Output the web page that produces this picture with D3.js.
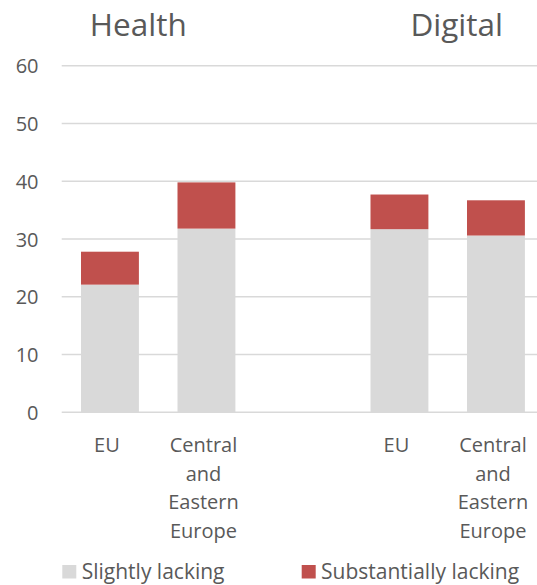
<!DOCTYPE html>
<html>
<head>
<meta charset="utf-8">
<script src="https://cdn.jsdelivr.net/npm/d3@7"></script>
<style>
  html, body { margin: 0; padding: 0; background: #fff; }
  svg { display: block; font-family: "Open Sans", "Noto Sans", sans-serif; }
</style>
</head>
<body>
<svg id="chart" width="537" height="585"></svg>
<script>
// Panel titles and the categories shown under each panel
const panels = ["Health", "Digital"];
const categories = ["EU", "Central and Eastern Europe"];
// Share of respondents (%) per bar, in order: Health EU, Health CEE, Digital EU, Digital CEE
const slightlyLacking = [22.1, 31.8, 31.7, 30.6];
const substantiallyLacking = [5.7, 8.0, 6.0, 6.1];
const seriesNames = ["Slightly lacking", "Substantially lacking"];
const yTicks = [0, 10, 20, 30, 40, 50, 60];

const colors = { slight: "#d9d9d9", substantial: "#c0504d", text: "#595959", grid: "#d9d9d9" };

const svg = d3.select("#chart");

// Build rows: one per bar, with an empty slot between the two panels
const rows = [];
panels.forEach((p, pi) => {
  categories.forEach((c, ci) => {
    const i = pi * categories.length + ci;
    rows.push({ key: p + "|" + c, panel: p, category: c, slight: slightlyLacking[i], substantial: substantiallyLacking[i] });
  });
});
const slots = [rows[0].key, rows[1].key, "gap", rows[2].key, rows[3].key];

const x = d3.scaleBand().domain(slots).range([61.7, 544.2]).paddingInner(0.4).paddingOuter(0.2);
const y = d3.scaleLinear().domain([0, 60]).range([412.3, 65.7]);

// Horizontal gridlines
svg.append("g").selectAll("line").data(yTicks).join("line")
  .attr("x1", 61.7).attr("x2", 537)
  .attr("y1", d => y(d)).attr("y2", d => y(d))
  .attr("stroke", colors.grid).attr("stroke-width", 1.5);

// Y axis labels
const yAxis = d3.axisLeft(y).tickValues(yTicks).tickSize(0).tickPadding(0);
const yg = svg.append("g").attr("transform", "translate(38.5,0)").call(yAxis);
yg.select(".domain").remove();
yg.selectAll("text").attr("fill", colors.text).style("font-size", "20px")
  .style("font-family", "'Open Sans', sans-serif").attr("dy", "0.36em");

// Stacked bars
const stack = d3.stack().keys(["slight", "substantial"])(rows);
const barColors = { slight: colors.slight, substantial: colors.substantial };
svg.append("g").selectAll("g").data(stack).join("g")
  .attr("fill", s => barColors[s.key])
  .selectAll("rect").data(s => s).join("rect")
  .attr("x", d => x(d.data.key))
  .attr("width", x.bandwidth())
  .attr("y", d => y(d[1]))
  .attr("height", d => y(d[0]) - y(d[1]));

// Category labels, one word per line
const catG = svg.append("g").selectAll("text").data(rows).join("text")
  .attr("text-anchor", "middle")
  .attr("fill", colors.text)
  .style("font-size", "20px");
catG.selectAll("tspan").data(d => d.category.split(" ").map(w => ({ w, cx: x(d.key) + x.bandwidth() / 2 })))
  .join("tspan")
  .attr("x", d => d.cx - 3)
  .attr("y", (d, i) => 452 + i * 28.6)
  .text(d => d.w);

// Panel titles
const titleX = { Health: 138.3, Digital: 456.7 };
svg.append("g").selectAll("text").data(panels).join("text")
  .attr("x", d => titleX[d]).attr("y", 36)
  .attr("text-anchor", "middle")
  .attr("fill", colors.text)
  .style("font-size", "31.5px")
  .text(d => d);

// Legend
const legendX = [62.3, 301.7];
const lg = svg.append("g").selectAll("g").data(seriesNames).join("g")
  .attr("transform", (d, i) => `translate(${legendX[i]},565)`);
lg.append("rect").attr("width", 14).attr("height", 13.5)
  .attr("fill", (d, i) => i === 0 ? colors.slight : colors.substantial);
lg.append("text").attr("x", 19.4).attr("y", 14.3)
  .attr("fill", colors.text).style("font-size", "21px")
  .text(d => d);
</script>
</body>
</html>
